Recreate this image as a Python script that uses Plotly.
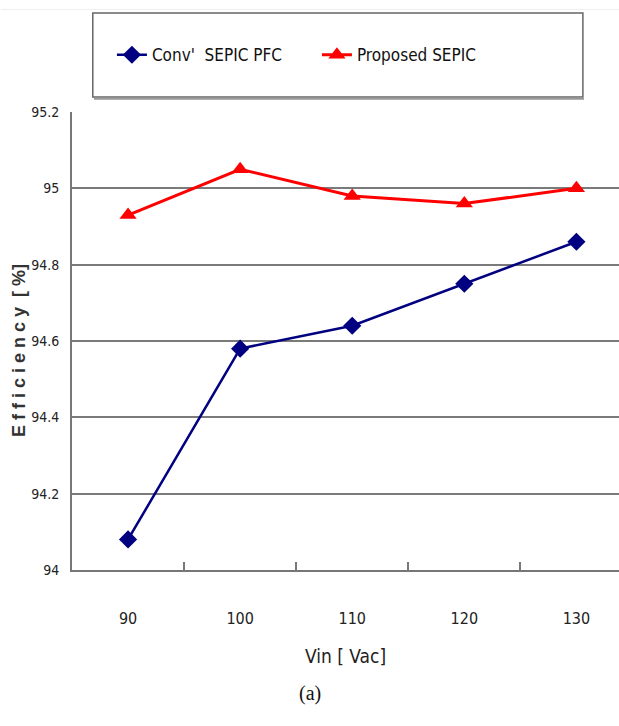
import plotly.graph_objects as go

vin = ["90", "100", "110", "120", "130"]
conv_sepic = [94.08, 94.58, 94.64, 94.75, 94.86]
proposed_sepic = [94.93, 95.05, 94.98, 94.96, 95.00]
y_ticks = [94, 94.2, 94.4, 94.6, 94.8, 95, 95.2]
y_tick_text = ["94", "94.2", "94.4", "94.6", "94.8", "95", "95.2"]

NARROW = "Liberation Sans Narrow, DejaVu Sans Condensed, Arial Narrow, sans-serif"

fig = go.Figure()
fig.add_trace(go.Scatter(
    x=vin, y=conv_sepic, name="Conv'  SEPIC PFC", mode="lines+markers",
    line=dict(color="#000080", width=2.5),
    marker=dict(symbol="diamond", size=14, color="#000080"),
))
fig.add_trace(go.Scatter(
    x=vin, y=proposed_sepic, name="Proposed SEPIC", mode="lines+markers",
    line=dict(color="#ff0000", width=3),
    marker=dict(symbol="triangle-up", size=15, color="#ff0000"),
))

fig.update_layout(
    width=619, height=726,
    margin=dict(l=72, r=0, t=112, b=156, autoexpand=False),
    paper_bgcolor="white", plot_bgcolor="white",
    font=dict(family=NARROW, size=15, color="#222"),
    showlegend=True,
    legend=dict(orientation="h", x=0.073, y=1.124, xanchor="left", yanchor="middle",
                bgcolor="rgba(0,0,0,0)", borderwidth=0,
                font=dict(family=NARROW, size=17, color="#111"),
                entrywidth=160, itemwidth=30),
    xaxis=dict(type="category", range=[-0.5, 4.38], showgrid=False,
               showline=True, linecolor="#777", linewidth=2,
               ticks="inside", tickson="boundaries", ticklen=8, tickcolor="#777", tickwidth=1.5,
               ticklabelstandoff=33,
               tickfont=dict(family=NARROW, size=16, color="#222"),
               title=dict(text="Vin [ Vac]", font=dict(family=NARROW, size=19, color="#222"), standoff=22)),
    yaxis=dict(range=[94, 95.2], tickvals=y_ticks, ticktext=y_tick_text,
               showgrid=True, gridcolor="#7a7a7a", gridwidth=2,
               showline=True, linecolor="#777", linewidth=2, zeroline=False,
               ticks="", ticklabelstandoff=8, tickfont=dict(family=NARROW, size=14, color="#222")),
)

# y-axis title (letter-spaced to match the stretched original)
title_txt = "E f f i c i e n c y  [ %]"
fig.add_annotation(text="<b>" + title_txt + "</b>", xref="paper", yref="paper",
                   x=-0.097, y=0.48, xanchor="center", yanchor="middle",
                   textangle=-90, showarrow=False,
                   font=dict(family="Liberation Sans, Arial, sans-serif", size=18, color="#333"))

# legend frame
fig.add_shape(type="rect", xref="paper", yref="paper", x0=0.038, x1=0.934, y0=1.033, y1=1.216,
              line=dict(color="#666", width=1.5), fillcolor="rgba(0,0,0,0)")
fig.add_shape(type="line", xref="paper", yref="paper", x0=0.04, x1=0.936, y0=1.029, y1=1.029,
              line=dict(color="#999", width=2))
fig.add_shape(type="line", xref="paper", yref="paper", x0=-0.13, x1=1.0, y0=1.224, y1=1.224,
              line=dict(color="#eee", width=1))

fig.add_annotation(text="(a)", xref="paper", yref="paper", x=0.435, y=-0.30,
                   showarrow=False, font=dict(family="Liberation Serif, Times New Roman, serif", size=20, color="#111"))

fig.write_html("out.html")
